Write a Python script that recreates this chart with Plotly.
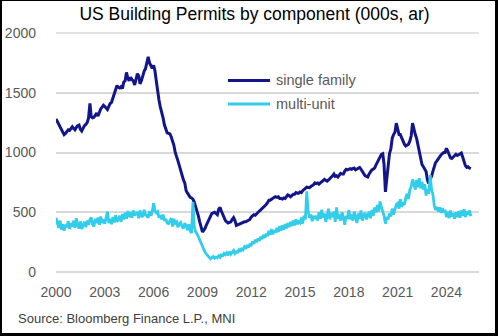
import pandas as pd
import plotly.graph_objects as go

# Monthly US building permits, seasonally adjusted annual rate (000s)
months = pd.date_range("2000-01-01", periods=307, freq="MS")

single_family = [
    # 2000
    1280, 1262, 1238, 1215, 1190, 1165, 1150, 1160, 1175, 1190, 1185, 1205,
    # 2001
    1215, 1200, 1190, 1210, 1225, 1230, 1195, 1180, 1205, 1225, 1235, 1250,
    # 2002
    1290, 1410, 1300, 1290, 1295, 1310, 1330, 1305, 1340, 1365, 1380, 1395,
    # 2003
    1385, 1370, 1360, 1385, 1410, 1420, 1455, 1490, 1530, 1560, 1545, 1540,
    # 2004
    1550, 1535, 1590, 1600, 1670, 1620, 1600, 1630, 1610, 1600, 1565, 1620,
    # 2005
    1660, 1640, 1575, 1600, 1650, 1680, 1700, 1740, 1800, 1750, 1720, 1705,
    # 2006
    1730, 1680, 1600, 1500, 1440, 1380, 1340, 1290, 1230, 1190, 1165, 1160,
    # 2007
    1155, 1130, 1095, 1060, 1000, 970, 930, 890, 850, 800, 770, 745,
    # 2008
    680, 660, 640, 625, 620, 610, 585, 550, 510, 470, 420, 380,
    # 2009
    335, 350, 365, 395, 420, 445, 470, 490, 495, 500, 490, 480,
    # 2010
    525, 540, 510, 480, 445, 430, 420, 410, 415, 420, 440, 455,
    # 2011
    430, 390, 395, 400, 410, 410, 415, 420, 420, 425, 430, 440,
    # 2012
    460, 470, 480, 475, 490, 500, 510, 520, 530, 545, 550, 565,
    # 2013
    580, 600, 600, 610, 620, 625, 630, 625, 630, 615, 615, 610,
    # 2014
    620, 615, 630, 645, 640, 630, 640, 650, 650, 665, 660, 660,
    # 2015
    670, 665, 680, 695, 700, 710, 705, 705, 715, 720, 730, 745,
    # 2016
    740, 745, 735, 745, 760, 765, 775, 765, 760, 770, 780, 795,
    # 2017
    805, 820, 800, 805, 795, 810, 825, 820, 820, 845, 860, 855,
    # 2018
    860, 865, 860, 865, 870, 855, 860, 870, 875, 860, 840, 825,
    # 2019
    805, 800, 795, 820, 840, 855, 860, 870, 895, 920, 935, 960,
    # 2020
    985, 990, 900, 670, 780, 870, 990, 1030, 1120, 1150, 1170, 1245,
    # 2021
    1180, 1150, 1150, 1120, 1090, 1070, 1055, 1060, 1070, 1095, 1140, 1245,
    # 2022
    1190, 1150, 1120, 1060, 1000, 930, 900, 880, 860, 840, 770, 740,
    # 2023
    780, 800, 840, 880, 915, 930, 950, 970, 980, 990, 1000, 1000,
    # 2024
    1035, 1010, 985, 955, 950, 960, 975, 985, 975, 980, 990, 995,
    # 2025
    960, 920, 890, 875, 880, 870, 865,
]

multi_unit = [
    # 2000
    455, 400, 370, 430, 355, 400, 345, 395, 375, 425, 360, 410,
    # 2001
    380, 430, 370, 450, 390, 365, 425, 360, 400, 420, 375, 430,
    # 2002
    395, 440, 455, 400, 380, 445, 410, 455, 395, 465, 410, 440,
    # 2003
    405, 455, 505, 410, 445, 400, 460, 415, 475, 420, 450, 470,
    # 2004
    420, 485, 440, 495, 445, 510, 460, 500, 455, 515, 475, 490,
    # 2005
    500, 450, 515, 470, 460, 520, 480, 470, 455, 510, 470, 505,
    # 2006
    575, 510, 495, 505, 455, 475, 440, 480, 430, 445, 410, 405,
    # 2007
    425, 450, 380, 445, 410, 420, 375, 405, 415, 380, 365, 410,
    # 2008
    385, 350, 400, 345, 325, 585, 380, 335, 320, 295, 270, 245,
    # 2009
    205, 185, 165, 150, 135, 125, 110, 120, 130, 115, 125, 120,
    # 2010
    135, 125, 150, 130, 155, 145, 160, 140, 170, 150, 165, 180,
    # 2011
    155, 170, 165, 185, 170, 200, 185, 210, 195, 225, 205, 230,
    # 2012
    225, 255, 235, 270, 250, 280, 260, 295, 275, 310, 285, 320,
    # 2013
    300, 345, 310, 360, 315, 350, 330, 370, 335, 385, 345, 390,
    # 2014
    355, 400, 365, 410, 375, 420, 385, 430, 390, 440, 400, 420,
    # 2015
    410, 455, 405, 470, 440, 675, 510, 455, 480, 425, 470, 445,
    # 2016
    470, 430, 500, 445, 520, 455, 490, 420, 470, 530, 440, 495,
    # 2017
    460, 505, 420, 540, 445, 480, 430, 500, 455, 395, 470, 445,
    # 2018
    520, 440, 480, 430, 505, 455, 410, 490, 445, 515, 430, 475,
    # 2019
    495, 440, 470, 505, 450, 520, 470, 540, 500, 560, 505, 590,
    # 2020
    545, 510, 470, 405, 460, 440, 490, 465, 530, 480, 520, 565,
    # 2021
    575, 530, 610, 545, 585, 560, 620, 655, 610, 690, 715, 775,
    # 2022
    735, 690, 770, 710, 785, 700, 755, 690, 735, 640, 695, 655,
    # 2023
    810, 690, 655, 560, 520, 545, 505, 540, 495, 535, 500, 520,
    # 2024
    460, 505, 450, 515, 465, 490, 445, 500, 460, 510, 455, 515,
    # 2025
    470, 525, 460, 505, 480, 515, 468,
]

series_names = ["single family", "multi-unit"]
series_colors = ["#13168a", "#33cdec"]
y_ticks = [0, 500, 1000, 1500, 2000]

W, H = 498, 336
ML, MR, MT, MB = 56, 19, 32, 64
PW, PH = W - ML - MR, H - MT - MB
y_max = 2000 * PH / (PH - 1)   # leaves one pixel of headroom above the top tick


def px_x(px):
    return (px - ML) / PW


def px_y(py):
    return (H - MB - py) / PH


fig = go.Figure()
for name, vals, col, lw in zip(series_names, [single_family, multi_unit], series_colors, [3, 2.8]):
    fig.add_trace(go.Scatter(x=months, y=vals, mode="lines", name=name,
                             line=dict(color=col, width=lw), showlegend=False))

shapes = []
annotations = []

# horizontal rule at the top tick of the value axis
shapes.append(dict(type="line", xref="paper", yref="paper", x0=0, x1=1,
                   y0=y_ticks[-1] / y_max, y1=y_ticks[-1] / y_max, layer="below",
                   line=dict(color="#d9d9d9", width=1.5)))

# legend drawn as line samples with labels
for i, (name, col) in enumerate(zip(series_names, series_colors)):
    yy = px_y(80.5 + 23.5 * i)
    shapes.append(dict(type="line", xref="paper", yref="paper",
                       x0=px_x(228), x1=px_x(270), y0=yy, y1=yy,
                       line=dict(color=col, width=3)))
    annotations.append(dict(text=name, xref="paper", yref="paper",
                            x=px_x(274), y=yy, xanchor="left", yanchor="middle",
                            showarrow=False,
                            font=dict(family="Liberation Sans", size=14.5, color="#595959")))

# outer frame
for x0, x1, y0, y1 in [(0, 2, 0, H), (W - 3, W, 0, H), (0, W, 0, 1), (0, W, H - 3, H)]:
    shapes.append(dict(type="rect", xref="paper", yref="paper",
                       x0=px_x(x0), x1=px_x(x1), y0=px_y(y1), y1=px_y(y0),
                       fillcolor="black", line=dict(width=0)))

annotations.append(dict(text="Source: Bloomberg Finance L.P., MNI", xref="paper", yref="paper",
                        x=px_x(16), y=px_y(318), xanchor="left", yanchor="middle",
                        showarrow=False,
                        font=dict(family="Liberation Sans", size=13, color="#404040")))

fig.update_layout(
    width=W, height=H,
    margin=dict(l=ML, r=MR, t=MT, b=MB, autoexpand=False),
    paper_bgcolor="white", plot_bgcolor="white",
    title=dict(text="US Building Permits by component (000s, ar)",
               x=254.5 / W, xanchor="center",
               y=1 - 14 / H, yanchor="middle",
               font=dict(family="Liberation Sans", size=17.5, color="#000000")),
    shapes=shapes, annotations=annotations,
    xaxis=dict(type="date", range=["2000-01-01", "2026-01-01"],
               tick0="2000-01-01", dtick="M36", tickformat="%Y",
               showgrid=False, zeroline=False, showline=False, ticks="",
               ticklabelstandoff=10, automargin=False,
               tickfont=dict(family="Liberation Sans", size=14, color="#595959")),
    yaxis=dict(range=[0, y_max], tickvals=y_ticks,
               showgrid=True, gridcolor="#d9d9d9", gridwidth=1.5,
               zeroline=True, zerolinecolor="#d9d9d9", zerolinewidth=1.5,
               showline=False, ticks="", ticklabelstandoff=19, automargin=False,
               tickfont=dict(family="Liberation Sans", size=14, color="#595959")),
)

fig.write_html("out.html")
